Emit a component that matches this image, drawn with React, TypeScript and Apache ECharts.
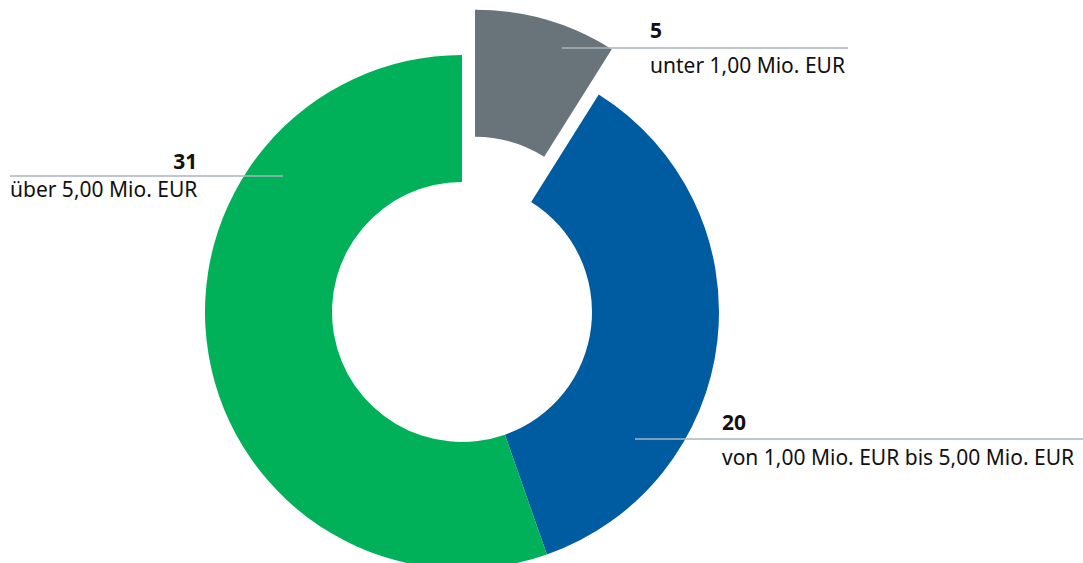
import React, { useEffect, useRef } from "react";
import * as echarts from "echarts";

const categories = [
  "unter 1,00 Mio. EUR",
  "von 1,00 Mio. EUR bis 5,00 Mio. EUR",
  "über 5,00 Mio. EUR",
];
const values = [5, 20, 31];
const colors = ["#68737a", "#005ca1", "#00b15a"];
const explodedIndex = 0;

// label placement (pixels): block anchor, line-height, leader line
const labelPos = [
  { x: 650, y: 47.5, lh: 35, lineY: 48, x1: 562, x2: 848, numAlign: "left" },
  { x: 722, y: 439, lh: 35, lineY: 439, x1: 635, x2: 1083, numAlign: "left" },
  { x: 10, y: 175, lh: 28, lineY: 176, x1: 10, x2: 283, numAlign: "right" },
];

const CX = 462;
const CY = 312;
const EXPLODE = 47;

export default function App() {
  const ref = useRef<HTMLDivElement>(null);
  useEffect(() => {
    if (!ref.current) return;
    const chart = echarts.init(ref.current, undefined, { renderer: "svg" });
    const font = "'Noto Sans', sans-serif";
    const total = values.reduce((a, b) => a + b, 0);
    const before = values.slice(0, explodedIndex).reduce((a, b) => a + b, 0);
    const mid = ((before + values[explodedIndex] / 2) / total) * 2 * Math.PI;
    const dx = Math.sin(mid) * EXPLODE;
    const dy = -Math.cos(mid) * EXPLODE;

    const makeSeries = (exploded: boolean) => ({
      type: "pie",
      center: exploded ? [CX + dx, CY + dy] : [CX, CY],
      radius: [130, 257],
      startAngle: 90,
      clockwise: true,
      avoidLabelOverlap: false,
      silent: true,
      emphasis: { disabled: true },
      itemStyle: { borderWidth: 0 },
      label: { show: true, position: "outside", fontFamily: font },
      labelLine: { show: false },
      labelLayout: (params: any) => {
        const p = labelPos[params.dataIndex];
        return { x: p.x, y: p.y, align: "left", verticalAlign: "middle" };
      },
      data: categories.map((name, i) => {
        const visible = exploded ? i === explodedIndex : i !== explodedIndex;
        return {
          name,
          value: values[i],
          itemStyle: { color: visible ? colors[i] : "rgba(0,0,0,0)" },
          label: visible
            ? {
                show: true,
                formatter: "{v|{c}}\n{n|{b}}",
                rich: {
                  v: {
                    fontFamily: font,
                    fontSize: 21,
                    fontWeight: "bold",
                    color: "#111111",
                    lineHeight: labelPos[i].lh,
                    align: labelPos[i].numAlign,
                  },
                  n: {
                    fontFamily: font,
                    fontSize: 21,
                    color: "#111111",
                    lineHeight: labelPos[i].lh,
                  },
                },
              }
            : { show: false },
        };
      }),
    });

    chart.setOption({
      animation: false,
      backgroundColor: "#ffffff",
      graphic: labelPos.map((p) => ({
        type: "line",
        z: 100,
        silent: true,
        shape: { x1: p.x1, y1: p.lineY, x2: p.x2, y2: p.lineY },
        style: { stroke: "#a9b5bf", lineWidth: 1.6 },
      })),
      series: [makeSeries(false), makeSeries(true)],
    });
    return () => chart.dispose();
  }, []);
  return (
    <div
      ref={ref}
      style={{ position: "absolute", left: 0, top: 0, width: 1083, height: 563 }}
    />
  );
}
